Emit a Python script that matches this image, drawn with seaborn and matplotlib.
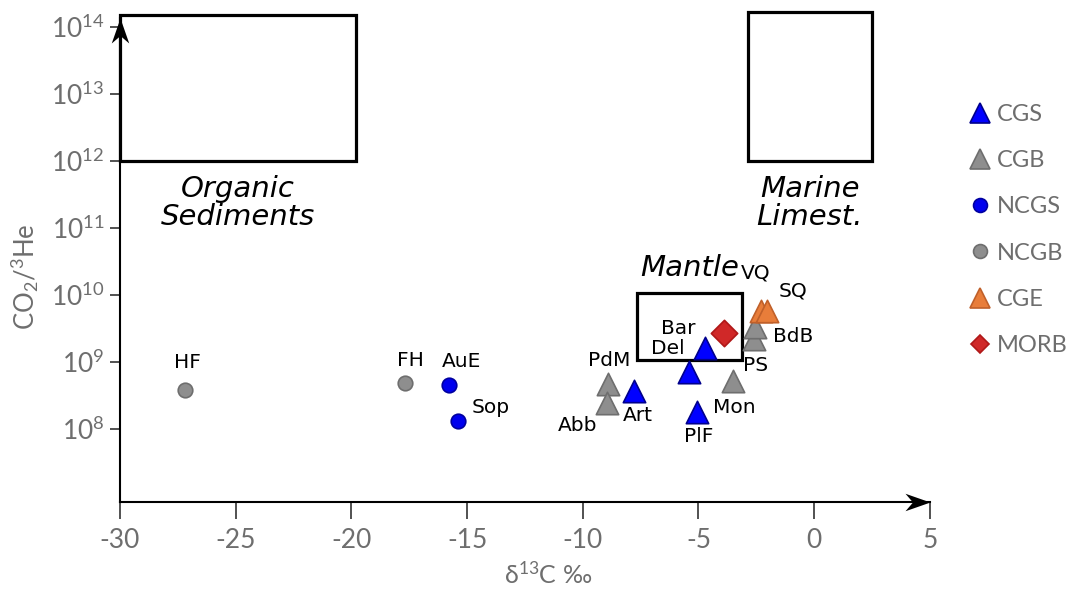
import numpy as np
import pandas as pd
import matplotlib
matplotlib.use("Agg")
import matplotlib.pyplot as plt
import seaborn as sns
from matplotlib.lines import Line2D
from matplotlib.patches import Rectangle
from matplotlib.path import Path
from matplotlib.ticker import FixedLocator, NullLocator, FuncFormatter

# ---------------- data ----------------
names  = ["HF", "FH", "AuE", "Sop", "PdM", "Abb", "Art", "PlF", "Mon", "", "Del", "Bar", "PS", "BdB", "VQ", "SQ"]
groups = ["NCGB", "NCGB", "NCGS", "NCGS", "CGB", "CGB", "CGS", "CGS", "CGB", "CGS", "CGS", "MORB", "CGB", "CGB", "CGE", "CGE"]
d13c   = [-27.2, -17.7, -15.8, -15.4, -8.9, -8.95, -7.8, -5.05, -3.5, -5.4, -4.7, -3.9, -2.6, -2.55, -2.3, -2.05]
co2he  = [3.8e8, 4.9e8, 4.5e8, 1.3e8, 4.7e8, 2.45e8, 3.7e8, 1.8e8, 5.2e8, 7.1e8, 1.6e9, 2.7e9, 2.2e9, 3.3e9, 5.8e9, 5.8e9]
# label offsets (points)
lab_dx = [2, 4, 9, 24, 1, -21, 3, 1, 1, 0, -27, -33, 1, 27, -4, 19]
lab_dy = [20, 16, 17, 10, 17, -16, -18, -18, -19, 0, 0, 3, -19, -7, 27, 14]

legend_order = ["CGS", "CGB", "NCGS", "NCGB", "CGE", "MORB"]
face = {"CGS": "#0000FF", "CGB": "#8E8E8E", "NCGS": "#0000EE", "NCGB": "#8E8E8E", "CGE": "#E87D3A", "MORB": "#D02828"}
edge = {"CGS": "#00008C", "CGB": "#6E6E6E", "NCGS": "#0000A0", "NCGB": "#6E6E6E", "CGE": "#C0602A", "MORB": "#B01818"}
mark = {"CGS": "^", "CGB": "^", "NCGS": "o", "NCGB": "o", "CGE": "^", "MORB": "D"}
msize = {"CGS": 260, "CGB": 260, "NCGS": 110, "NCGB": 110, "CGE": 260, "MORB": 180}

# reference boxes: (x0, x1, y0, y1)
box_org = (-30.0, -19.8, 1.0e12, 1.5e14)
box_mar = (-2.85, 2.5, 1.0e12, 1.65e14)
box_man = (-7.65, -3.1, 1.07e9, 1.07e10)

df = pd.DataFrame({"name": names, "group": groups, "d13C": d13c, "ratio": co2he})

# ---------------- figure ----------------
sns.set_theme(style="white")
plt.rcParams["font.family"] = ["DejaVu Sans"]
plt.rcParams["mathtext.default"] = "regular"

fig = plt.figure(figsize=(10.77, 5.90), dpi=100)
ax = fig.add_axes([0.1114, 0.149, 0.752, 0.8203])

for g in legend_order:
    sub = df[df.group == g]
    sns.scatterplot(data=sub, x="d13C", y="ratio", ax=ax, marker=mark[g], s=msize[g],
                    color=face[g], edgecolor=edge[g], linewidth=1.2, zorder=5, legend=False)

ax.set_yscale("log")
ax.set_xlim(-30, 5)
ax.set_ylim(10**6.91, 10**14.13)

# boxes
for (x0, x1, y0, y1) in (box_org, box_mar, box_man):
    ax.add_patch(Rectangle((x0, y0), x1 - x0, y1 - y0, fill=False, edgecolor="black",
                           linewidth=2.3, clip_on=False, zorder=3))

# point labels
for n, x, y, dx, dy in zip(names, d13c, co2he, lab_dx, lab_dy):
    if n:
        ax.annotate(n, (x, y), xytext=(dx, dy), textcoords="offset points",
                    ha="center", va="center", fontsize=14.5, color="black", zorder=6)

# region labels
ax.text(-24.9, 10**11.37, "Organic\nSediments", ha="center", va="center", fontsize=21,
        style="italic", linespacing=1.0, color="black")
ax.text(-0.2, 10**11.37, "Marine\nLimest.", ha="center", va="center", fontsize=21,
        style="italic", linespacing=1.0, color="black")
ax.text(-5.4, 10**10.4, "Mantle", ha="center", va="center", fontsize=21, style="italic",
        color="black")

# spines with stealth arrowheads
for s in ("top", "right"):
    ax.spines[s].set_visible(False)
for s in ("left", "bottom"):
    ax.spines[s].set_linewidth(1.5)
    ax.spines[s].set_color("black")
right_arrow = Path([(0, 0), (-2, 0.7), (-1.4, 0), (-2, -0.7), (0, 0)],
                   [Path.MOVETO, Path.LINETO, Path.LINETO, Path.LINETO, Path.CLOSEPOLY])
up_arrow = Path([(0, 0), (-0.7, -2), (0, -1.4), (0.7, -2), (0, 0)],
                [Path.MOVETO, Path.LINETO, Path.LINETO, Path.LINETO, Path.CLOSEPOLY])
ax.plot(1, 0, marker=right_arrow, transform=ax.transAxes, color="black", markersize=36,
        markeredgewidth=0, clip_on=False, zorder=6)
ax.plot(0, 1, marker=up_arrow, transform=ax.transAxes, color="black", markersize=36,
        markeredgewidth=0, clip_on=False, zorder=6)

# ticks
tick_font = "Lato"
gray = "#6E6E6E"
ax.set_xticks([-30, -25, -20, -15, -10, -5, 0, 5])
ax.xaxis.set_major_formatter(FuncFormatter(lambda v, p: f"{int(v)}"))
ax.yaxis.set_major_locator(FixedLocator([1e8, 1e9, 1e10, 1e11, 1e12, 1e13, 1e14]))
ax.yaxis.set_minor_locator(NullLocator())
ax.yaxis.set_major_formatter(FuncFormatter(lambda v, p: r"$10^{%d}$" % round(np.log10(v))))
ax.tick_params(axis="x", direction="out", length=12, width=1.2, color="#333333",
               labelsize=19, labelcolor=gray, pad=7, bottom=True)
ax.tick_params(axis="y", direction="out", length=7, width=1.2, color="#333333",
               labelsize=19, labelcolor=gray, pad=4, left=True)
for lab in ax.get_xticklabels() + ax.get_yticklabels():
    lab.set_family(tick_font)

ax.set_xlabel(r"δ$^{13}$C ‰", fontsize=18, color=gray, family=tick_font)
ax.set_ylabel(r"CO$_2$/$^3$He", fontsize=18.5, color=gray, family=tick_font)
ax.xaxis.set_label_coords((548 - 120) / 810, (502 - 561) / 484)
ax.yaxis.set_label_coords((41 - 120) / 810, (502 - 277) / 484)
ax.grid(False)

# legend
handles = [Line2D([0], [0], marker=mark[g], linestyle="none", markerfacecolor=face[g],
                  markeredgecolor=edge[g], markersize=(15 if mark[g] == "^" else 10 if mark[g] == "o" else 9),
                  markeredgewidth=1.2) for g in legend_order]
leg = fig.legend(handles, legend_order, loc="upper left", bbox_to_anchor=(0.888, 0.84),
                 frameon=False, fontsize=17, labelspacing=1.07, handletextpad=0.1,
                 handlelength=1.2, borderaxespad=0)
for t in leg.get_texts():
    t.set_color(gray)
    t.set_family(tick_font)

fig.savefig("out.png", dpi=100)
